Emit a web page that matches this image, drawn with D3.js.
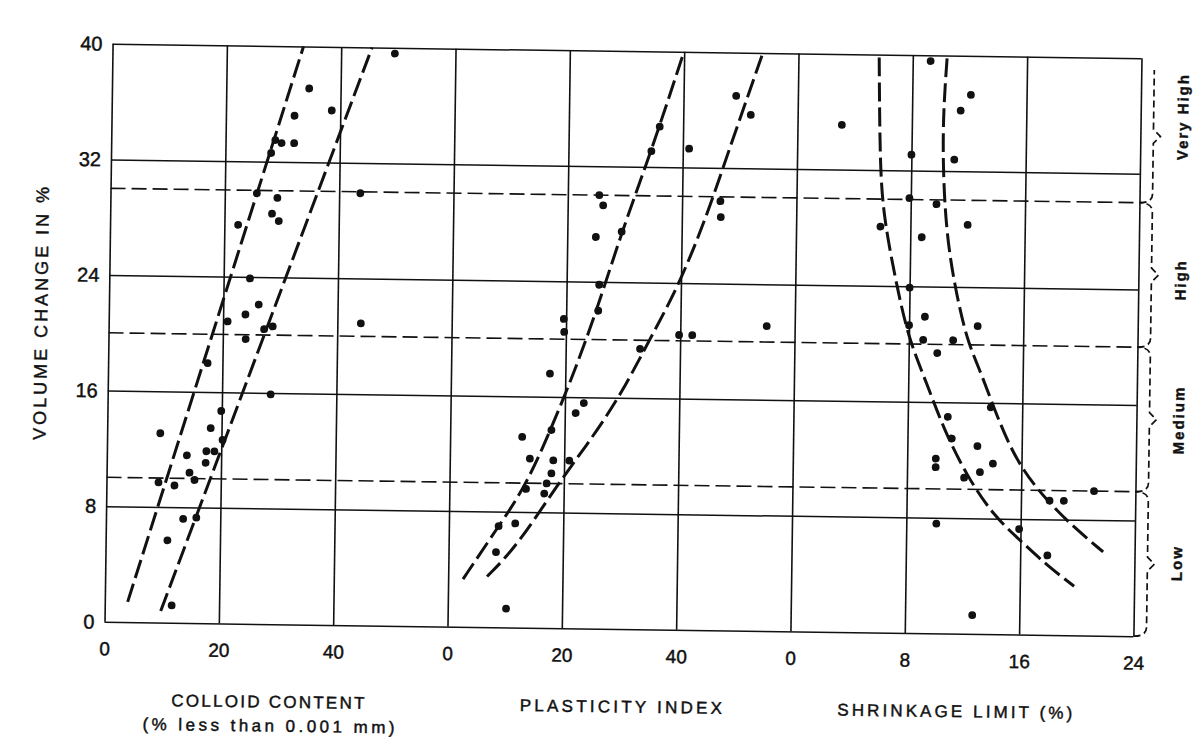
<!DOCTYPE html>
<html>
<head>
<meta charset="utf-8">
<script src="https://cdn.jsdelivr.net/npm/d3@7"></script>
<style>
  body { margin: 0; background: #fff; }
  svg { display: block; font-family: "Liberation Sans", "DejaVu Sans", sans-serif; }
  text { stroke: #111; stroke-width: 0.45px; }
</style>
</head>
<body>
<svg width="1193" height="740"></svg>
<script>
// volume change against colloid content, plasticity index and shrinkage limit

var yTicks = [0, 8, 16, 24, 32, 40];
var classLines = [10, 20, 30];
var classNames = ["Low", "Medium", "High", "Very High"];
var classFrom = [0, 10, 20, 30];
var classTo = [10, 20, 30, 39.2];
var classLabelAt = [5.1, 15, 24.7, 36];

var panelMax = [60, 60, 24];
var panelTicks = [[0, 20, 40], [0, 20, 40], [0, 8, 16, 24]];
var panelTitles = ["COLLOID CONTENT", "PLASTICITY INDEX", "SHRINKAGE LIMIT (%)"];
var colloidSubTitle = "(% less than 0.001 mm)";

// [x, volume change %]
var colloidPts = [
  [49.4, 39.6], [34.5, 37.1], [38.5, 35.6], [32, 35.2], [29.8, 33.3], [28.7, 33.5],
  [32, 33.3], [28, 32.6], [43.7, 29.9], [25.6, 29.8], [29.2, 29.5], [28.3, 28.4],
  [29.5, 27.9], [22.4, 27.6], [24.6, 23.9], [26.2, 22.1], [23.9, 21.4], [20.8, 20.9],
  [44.1, 20.9], [28.7, 20.6], [27.2, 20.4], [24, 19.7], [17.4, 18.0], [28.5, 15.9],
  [19.9, 14.7], [9.3, 13.1], [18.1, 13.5], [20.2, 12.7], [17.4, 11.9], [18.8, 11.9],
  [14, 11.6], [17.3, 11.1], [14.5, 10.4], [15.4, 9.9], [9.1, 9.7], [11.9, 9.5],
  [13.5, 7.2], [15.8, 7.3], [10.8, 5.7], [11.7, 1.2]
];
var plasticityPts = [
  [49.2, 37.0], [51.8, 35.7], [41.1, 33.3], [35.9, 34.8], [34.5, 33.1], [25.5, 30.0],
  [26.2, 29.3], [46.7, 29.7], [46.8, 28.6], [29.5, 27.5], [25.0, 27.1], [25.7, 23.8],
  [55.1, 21.1], [25.6, 22.0], [19.6, 21.4], [19.7, 20.5], [39.8, 20.4], [42.1, 20.4],
  [33.0, 19.4], [17.3, 17.6], [23.3, 15.6], [21.9, 14.9], [17.7, 13.7], [12.6, 13.2],
  [18.1, 11.6], [20.9, 11.6], [14.0, 11.7], [17.8, 10.7], [13.4, 9.6], [17.0, 10.0],
  [16.6, 9.3], [11.6, 7.2], [8.7, 7.0], [8.3, 5.2], [10.2, 1.3]
];
var shrinkagePts = [
  [9.25, 39.6], [12.1, 37.3], [11.4, 36.2], [3.1, 35.1], [11.0, 32.8], [8.0, 33.1],
  [7.9, 30.1], [9.8, 29.7], [12.0, 28.3], [5.9, 28.1], [8.8, 27.4], [8.0, 23.9],
  [9.1, 21.9], [12.8, 21.3], [8.0, 21.3], [9.0, 20.3], [11.1, 20.3], [10.0, 19.4],
  [13.8, 15.7], [10.8, 15.0], [11.1, 13.5], [12.9, 13.0], [10.0, 12.1], [10.0, 11.5],
  [14.0, 11.8], [13.1, 11.2], [12.0, 10.8], [21.1, 10.0], [18.0, 9.3], [19.0, 9.3],
  [10.1, 7.6], [15.9, 7.3], [17.9, 5.5], [12.7, 1.3]
];

// envelope curves
var colloidUpper = [[4, 1.4], [33.4, 40]];
var colloidLower = [[9.8, 0.8], [45.4, 40]];
var plasticityUpper = [[2.6, 3.3], [8.7, 7.0], [13.4, 9.8], [18.5, 14.6], [24.1, 20.4],
  [29.5, 27.5], [34.5, 33.1], [39.8, 39.8]];
var plasticityLower = [[6.8, 3.5], [11.9, 5.6], [19.0, 10.0], [24.5, 13.0], [29.9, 16.3],
  [34.7, 20.1], [39.5, 23.7], [44.3, 28.6], [47.7, 32.8], [53.6, 39.8]];
var shrinkInner = [[5.65, 39.8], [5.8, 32.5], [6.1, 28.8], [7.1, 24.0], [8.0, 20.3],
  [9.3, 17.3], [10.5, 14.2], [12.2, 10.9], [14.1, 8.2], [16.0, 6.5], [17.9, 4.8], [19.8, 3.4]];
var shrinkOuter = [[10.4, 39.8], [10.2, 36.4], [10.2, 32.5], [10.5, 27.9], [11.1, 24.3],
  [12.05, 20.3], [13.0, 18.3], [14.5, 14.4], [15.9, 11.6], [17.8, 9.3], [19.7, 7.5], [21.8, 5.8]];

var panelPts = [colloidPts, plasticityPts, shrinkagePts];
var panelCurves = [[colloidUpper, colloidLower], [plasticityUpper, plasticityLower], [shrinkInner, shrinkOuter]];

var svg = d3.select("svg");
var plotLeft = 108.5, plotTop = 51, panelW = 343, plotH = 578;
var plotW = panelW * 3, plotRight = plotLeft + plotW, plotBottom = plotTop + plotH;
var ink = "#111";

// the scanned figure sits slightly rotated
var g = svg.append("g").attr("transform", "rotate(0.8,623,340)");

var y = d3.scaleLinear().domain([0, 40]).range([plotBottom, plotTop]);
var xs = panelMax.map((m, i) =>
  d3.scaleLinear().domain([0, m]).range([plotLeft + i * panelW, plotLeft + (i + 1) * panelW]));

// horizontal grid + y labels
var yAxis = g.append("g")
  .attr("transform", "translate(" + plotLeft + ",0)")
  .call(d3.axisLeft(y).tickValues(yTicks).tickSize(-plotW).tickPadding(10).tickFormat(d3.format("d")));
yAxis.select(".domain").remove();
yAxis.selectAll("line").attr("stroke", ink).attr("stroke-width", 1.5);
yAxis.selectAll("text").attr("fill", ink).style("font-size", "20px");

// vertical grid + x labels per panel
xs.forEach(function (x, i) {
  var ax = g.append("g")
    .attr("transform", "translate(0," + plotBottom + ")")
    .call(d3.axisBottom(x).tickValues(panelTicks[i]).tickSize(-plotH).tickPadding(20).tickFormat(d3.format("d")));
  ax.select(".domain").remove();
  ax.selectAll("line").attr("stroke", ink).attr("stroke-width", 1.6);
  ax.selectAll("text").attr("fill", ink).style("font-size", "19px");
});

// class boundaries
g.selectAll("line.cls").data(classLines).enter().append("line")
  .attr("class", "cls")
  .attr("x1", plotLeft).attr("x2", plotRight)
  .attr("y1", d => y(d)).attr("y2", d => y(d))
  .attr("stroke", ink).attr("stroke-width", 1.6)
  .attr("stroke-dasharray", "15,6");

// envelopes
var line = d3.line().x(d => d[0]).y(d => d[1]).curve(d3.curveBasis);
panelCurves.forEach(function (pair, i) {
  g.selectAll(null).data(pair).enter().append("path")
    .attr("d", c => line(c.map(p => [xs[i](p[0]), y(p[1])])))
    .attr("fill", "none").attr("stroke", ink)
    .attr("stroke-width", 3).attr("stroke-dasharray", "19,6");
});

// points
panelPts.forEach(function (pts, i) {
  g.selectAll(null).data(pts).enter().append("circle")
    .attr("cx", d => xs[i](d[0])).attr("cy", d => y(d[1]))
    .attr("r", 3.9).attr("fill", ink);
});

// class braces on the right
var bx = plotRight + 13;
classNames.forEach(function (name, i) {
  var y0 = y(classFrom[i]), y1 = y(classTo[i]), mid = (y0 + y1) / 2;
  var p = d3.path();
  p.moveTo(plotRight, y0);
  p.quadraticCurveTo(bx, y0, bx, y0 - 9);
  p.lineTo(bx, mid + 7);
  p.lineTo(bx + 7, mid);
  p.lineTo(bx, mid - 7);
  if (i < classNames.length - 1) {
    p.lineTo(bx, y1 + 9);
    p.quadraticCurveTo(bx, y1, plotRight, y1);
  } else {
    p.lineTo(bx, y1);
  }
  g.append("path").attr("d", p.toString())
    .attr("fill", "none").attr("stroke", ink)
    .attr("stroke-width", 1.7).attr("stroke-dasharray", "7,4");
  g.append("text")
    .attr("transform", "translate(" + (plotRight + 42) + "," + y(classLabelAt[i]) + ") rotate(-90)")
    .attr("text-anchor", "middle").attr("dominant-baseline", "central")
    .attr("fill", ink).style("font-size", "15px").style("font-weight", "bold")
    .style("letter-spacing", "2px")
    .text(name);
});

// axis titles
g.append("text")
  .attr("transform", "translate(41,320) rotate(-90)")
  .attr("text-anchor", "middle").attr("dominant-baseline", "central")
  .attr("fill", ink).style("font-size", "18px").style("letter-spacing", "3px")
  .text("VOLUME CHANGE IN %");

var titleX = [273, 626, 960];
var titleW = [193, 202, 235];
panelTitles.forEach(function (t, i) {
  g.append("text")
    .attr("x", titleX[i]).attr("y", 707)
    .attr("text-anchor", "middle").attr("dominant-baseline", "central")
    .attr("textLength", titleW[i]).attr("lengthAdjust", "spacing")
    .attr("fill", ink).style("font-size", "17px")
    .text(t);
});
g.append("text")
  .attr("x", 274).attr("y", 731)
  .attr("text-anchor", "middle").attr("dominant-baseline", "central")
  .attr("textLength", 252).attr("lengthAdjust", "spacing")
  .attr("fill", ink).style("font-size", "17px")
  .text(colloidSubTitle);
</script>
</body>
</html>
